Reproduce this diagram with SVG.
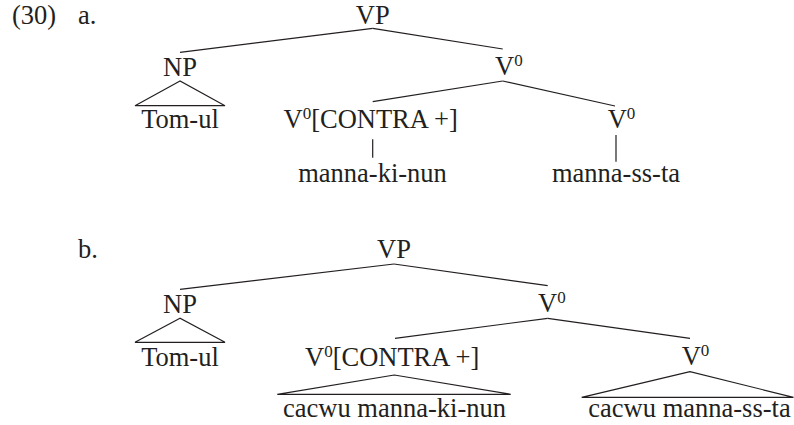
<svg xmlns="http://www.w3.org/2000/svg" width="794" height="425" viewBox="0 0 794 425" font-family="'Liberation Serif', Tinos, 'Times New Roman', Times, 'Nimbus Roman', 'DejaVu Serif', serif">
<style>
text{font-family:'Liberation Serif', Tinos, 'Times New Roman', Times, 'Nimbus Roman', 'DejaVu Serif', serif;font-size:26.5px;fill:#231f20}
.m{text-anchor:middle}
.sup{font-size:17px}
line,polygon{stroke:#231f20;stroke-width:1.2;fill:none}
</style>
<rect width="794" height="425" fill="#fff"/>
<g id="labels">
<text x="12" y="23.5">(30)</text>
<text x="78" y="23.5">a.</text>
<text x="78" y="258.3">b.</text>
</g>
<g id="connectors">
<line x1="372.7" y1="28.3" x2="180" y2="52.3"/>
<line x1="372.7" y1="28.3" x2="502.7" y2="49"/>
<polygon points="180,81 135,105.7 225,105.7"/>
<line x1="502.7" y1="81" x2="372.7" y2="101.7"/>
<line x1="502.7" y1="81" x2="615" y2="106"/>
<line x1="372.7" y1="139.3" x2="372.7" y2="157.7"/>
<line x1="616" y1="135" x2="616" y2="161.7"/>
<line x1="394" y1="264" x2="180" y2="289.3"/>
<line x1="394" y1="264" x2="547.7" y2="285.7"/>
<polygon points="180,318.3 135,342.3 225,342.3"/>
<line x1="547.7" y1="318.3" x2="395" y2="338.3"/>
<line x1="547.7" y1="318.3" x2="690" y2="338.3"/>
<polygon points="394.3,375 277.3,394.3 510.7,394.3"/>
<polygon points="690,371.7 581.7,397.3 793.5,397.3"/>
</g>
<g id="a-VP"><text class="m" x="372.7" y="23.5">VP</text></g>
<g id="a-NP"><text class="m" x="180" y="76">NP</text></g>
<g id="a-Tom"><text class="m" x="180" y="128">Tom-ul</text></g>
<g id="a-V0"><text x="495" y="75">V<tspan class="sup" dy="-9">0</tspan></text></g>
<g id="a-V0contra"><text x="283.5" y="128">V<tspan class="sup" dy="-9">0</tspan><tspan dy="9">[CONTRA +]</tspan></text></g>
<g id="a-mannakinun"><text class="m" x="372.5" y="181.7">manna-ki-nun</text></g>
<g id="a-V0right"><text x="607.7" y="128">V<tspan class="sup" dy="-9">0</tspan></text></g>
<g id="a-mannasta"><text class="m" x="616" y="181.7">manna-ss-ta</text></g>
<g id="b-VP"><text class="m" x="394" y="258.3">VP</text></g>
<g id="b-NP"><text class="m" x="180" y="313.3">NP</text></g>
<g id="b-Tom"><text class="m" x="180" y="365.7">Tom-ul</text></g>
<g id="b-V0"><text x="538" y="311.7">V<tspan class="sup" dy="-9">0</tspan></text></g>
<g id="b-V0contra"><text x="305" y="365.7">V<tspan class="sup" dy="-9">0</tspan><tspan dy="9">[CONTRA +]</tspan></text></g>
<g id="b-cacwukinun"><text class="m" x="394.5" y="417.3">cacwu manna-ki-nun</text></g>
<g id="b-V0right"><text x="681.7" y="365">V<tspan class="sup" dy="-9">0</tspan></text></g>
<g id="b-cacwusta"><text class="m" x="689.5" y="417.3">cacwu manna-ss-ta</text></g>
</svg>
